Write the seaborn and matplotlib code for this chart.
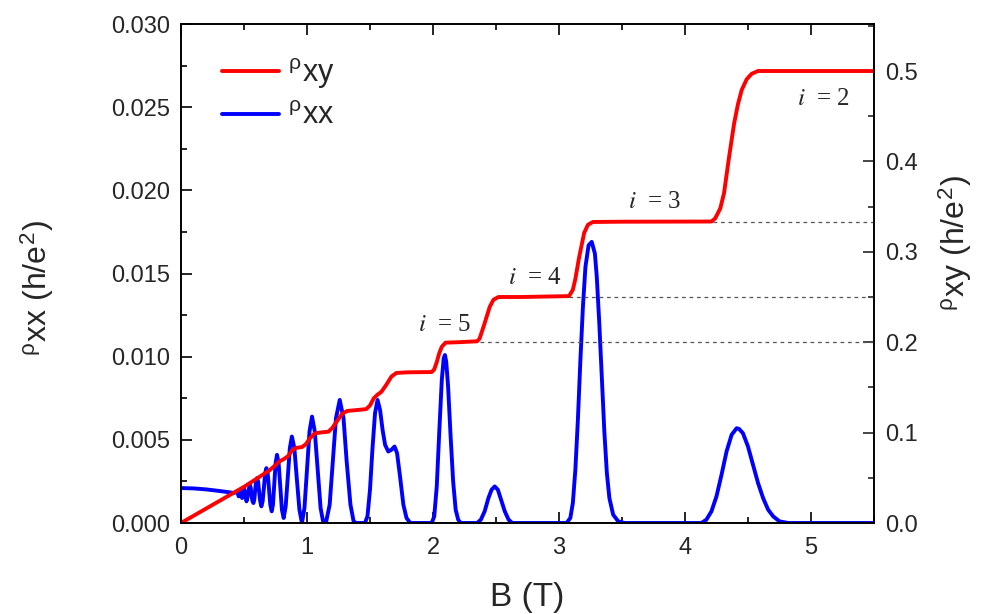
import numpy as np
import pandas as pd
import matplotlib
matplotlib.use('Agg')
import matplotlib.pyplot as plt
import seaborn as sns
from matplotlib.ticker import MultipleLocator, FormatStrFormatter

# rho_xx (left axis)
bxx = [0.00, 0.10, 0.20, 0.30, 0.38, 0.42, 0.445, 0.452, 0.458, 0.464, 0.47, 0.477, 0.485,
       0.492, 0.50, 0.51, 0.52, 0.527, 0.534, 0.547, 0.554, 0.561, 0.568, 0.575, 0.582, 0.589,
       0.596, 0.603, 0.612, 0.62, 0.629, 0.638, 0.648, 0.658, 0.668, 0.678, 0.688, 0.699,
       0.709, 0.72, 0.73, 0.741, 0.751, 0.762, 0.775, 0.788, 0.801, 0.815, 0.831, 0.848,
       0.864, 0.88, 0.90, 0.92, 0.94, 0.96, 0.98, 1.00, 1.02, 1.04, 1.062, 1.085, 1.108,
       1.13, 1.15, 1.18, 1.205, 1.23, 1.26, 1.29, 1.315, 1.345, 1.37, 1.39, 1.46, 1.48, 1.50,
       1.52, 1.54, 1.56, 1.58, 1.60, 1.62, 1.645, 1.67, 1.695, 1.715, 1.74, 1.765, 1.79, 1.82,
       1.99, 2.01, 2.03, 2.05, 2.07, 2.085, 2.095, 2.105, 2.12, 2.14, 2.16, 2.18, 2.20, 2.22,
       2.35, 2.38, 2.41, 2.44, 2.465, 2.49, 2.515, 2.54, 2.57, 2.60, 2.63, 3.06, 3.09, 3.11,
       3.13, 3.15, 3.17, 3.19, 3.21, 3.235, 3.26, 3.285, 3.30, 3.32, 3.34, 3.36, 3.38, 3.40,
       3.43, 3.47, 3.52, 4.13, 4.17, 4.21, 4.25, 4.29, 4.33, 4.37, 4.41, 4.43, 4.46, 4.50,
       4.54, 4.58, 4.62, 4.66, 4.70, 4.75, 4.82, 5.50]
rho_xx = [0.0021, 0.00208, 0.00202, 0.00193, 0.00185, 0.0018, 0.0019, 0.00175, 0.0016,
          0.0018, 0.0020, 0.00175, 0.0015, 0.0018, 0.0021, 0.0017, 0.0013, 0.0015, 0.0019,
          0.0023, 0.0021, 0.0016, 0.0013, 0.0012, 0.0014, 0.0020, 0.0025, 0.0027, 0.0025,
          0.0019, 0.0013, 0.0010, 0.0013, 0.0021, 0.0030, 0.0033, 0.0030, 0.0020, 0.0011,
          0.0007, 0.0011, 0.0024, 0.0036, 0.0041, 0.0036, 0.0022, 0.0008, 0.0003, 0.0010,
          0.0028, 0.0045, 0.0052, 0.0045, 0.0026, 0.0008, 0.0000, 0.0009, 0.0032, 0.0055,
          0.0064, 0.0055, 0.0032, 0.0009, 0.0000, 0.0000, 0.0011, 0.0037, 0.0063, 0.0074,
          0.0063, 0.0037, 0.0011, 0.0001, 0.0000, 0.0000, 0.0004, 0.0020, 0.0045, 0.0066,
          0.0074, 0.0068, 0.0056, 0.0047, 0.0043, 0.0044, 0.0046, 0.0042, 0.0027, 0.0011,
          0.0003, 0.0000, 0.0000, 0.0004, 0.0022, 0.0055, 0.0086, 0.0099, 0.0101, 0.0097,
          0.0082, 0.0052, 0.0025, 0.0008, 0.0002, 0.0000, 0.0000, 0.0002, 0.0007, 0.0015,
          0.0020, 0.0022, 0.0020, 0.0014, 0.0007, 0.0002, 0.0000, 0.0000, 0.0003, 0.0012,
          0.0032, 0.0062, 0.0098, 0.0130, 0.0154, 0.0167, 0.0169, 0.0162, 0.0148, 0.0120,
          0.0087, 0.0055, 0.0030, 0.0015, 0.0005, 0.0001, 0.0000, 0.0000, 0.0002, 0.0007,
          0.0016, 0.0029, 0.0043, 0.0053, 0.0057, 0.00565, 0.0054, 0.0046, 0.0035, 0.0024,
          0.0015, 0.0008, 0.0004, 0.0001, 0.0000, 0.0000]

# rho_xy (right axis)
bxy = [0.00, 0.20, 0.40, 0.50, 0.60, 0.70, 0.75, 0.78, 0.82, 0.85, 0.88, 0.91, 0.96, 0.99,
       1.02, 1.06, 1.10, 1.17, 1.20, 1.24, 1.28, 1.32, 1.40, 1.47, 1.50, 1.53, 1.56, 1.59,
       1.63, 1.67, 1.71, 1.80, 1.99, 2.01, 2.03, 2.05, 2.07, 2.10, 2.20, 2.35, 2.37, 2.41,
       2.45, 2.48, 2.52, 2.70, 3.08, 3.11, 3.13, 3.16, 3.20, 3.23, 3.27, 3.50, 4.21, 4.24,
       4.28, 4.31, 4.35, 4.39, 4.42, 4.45, 4.49, 4.53, 4.58, 5.00, 5.50]
rho_xy = [0.000, 0.016, 0.032, 0.040, 0.049, 0.058, 0.064, 0.068, 0.071, 0.074, 0.080, 0.083,
          0.084, 0.087, 0.093, 0.099, 0.100, 0.101, 0.105, 0.113, 0.121, 0.124, 0.125, 0.126,
          0.130, 0.138, 0.142, 0.145, 0.153, 0.162, 0.166, 0.1667, 0.167, 0.170, 0.178, 0.188,
          0.195, 0.1995, 0.200, 0.201, 0.204, 0.221, 0.239, 0.247, 0.250, 0.250, 0.251, 0.258,
          0.270, 0.294, 0.321, 0.330, 0.333, 0.3333, 0.3335, 0.337, 0.348, 0.365, 0.405, 0.442,
          0.463, 0.479, 0.491, 0.497, 0.500, 0.500, 0.500]

# quantized plateaus marked with dashed lines
plateau_i = [5, 4, 3, 2]
plateau_val = [1/5, 1/4, 1/3]
plateau_start = [2.37, 3.08, 4.22]
label_x = [2.09, 2.81, 3.76, 5.10]
label_y = [0.219, 0.271, 0.355, 0.469]

sns.set_style('ticks')
plt.rcParams['font.family'] = ['Liberation Sans', 'DejaVu Sans']
plt.rcParams['mathtext.fontset'] = 'stix'

fig = plt.figure(figsize=(9.82, 6.14), dpi=100)
ax = fig.add_axes([0.1843, 0.1482, 0.7057, 0.8127])
ax2 = ax.twinx()

sns.lineplot(x=bxx, y=rho_xx, ax=ax, color='#0000ff', lw=2.8, sort=False)
sns.lineplot(x=bxy, y=rho_xy, ax=ax2, color='#ff0000', lw=2.8, sort=False)

ax2.hlines(plateau_val, plateau_start, 5.5, colors='#555555', linestyles=(0, (3, 3)), lw=0.9)

for i, x, y in zip(plateau_i, label_x, label_y):
    ax2.text(x, y, r'$\mathit{i}$  = %d' % i, fontsize=18, family='Liberation Serif',
             ha='center', va='center')

ax.set_xlim(0, 5.5)
ax.set_ylim(0, 0.030)
ax2.set_ylim(0, 0.552)

ax.xaxis.set_major_locator(MultipleLocator(1))
ax.xaxis.set_minor_locator(MultipleLocator(0.5))
ax.yaxis.set_major_locator(MultipleLocator(0.005))
ax.yaxis.set_minor_locator(MultipleLocator(0.0025))
ax.yaxis.set_major_formatter(FormatStrFormatter('%.3f'))
ax2.yaxis.set_major_locator(MultipleLocator(0.1))
ax2.yaxis.set_minor_locator(MultipleLocator(0.05))
ax2.yaxis.set_major_formatter(FormatStrFormatter('%.1f'))

ax.tick_params(axis='both', which='both', direction='in', top=True, right=False,
               labelsize=17, color='black', width=1.2)
ax.tick_params(which='major', length=8)
ax.tick_params(which='minor', length=4)
ax.tick_params(axis='x', pad=10)
ax.tick_params(axis='y', pad=8)
ax2.tick_params(axis='y', which='both', direction='in', labelsize=17, width=1.2, pad=8)
ax2.tick_params(which='major', length=8)
ax2.tick_params(which='minor', length=4)

for a in (ax, ax2):
    for s in a.spines.values():
        s.set_color('black')
        s.set_linewidth(1.2)

ax.set_xlabel('B (T)', fontsize=24)
ax.xaxis.set_label_coords(0.5, -0.118)
ax.set_ylabel(r'$^{\mathregular{\rho}}$xx (h/e$^{\mathregular{2}}$)', fontsize=23)
ax.yaxis.set_label_coords(-0.18, 0.47)
ax2.set_ylabel(r'$^{\mathregular{\rho}}$xy (h/e$^{\mathregular{2}}$)', fontsize=23)
ax2.yaxis.set_label_coords(1.09, 0.56)

handles = [plt.Line2D([], [], color='#ff0000', lw=2.8), plt.Line2D([], [], color='#0000ff', lw=2.8)]
labels = [r'$^{\mathregular{\rho}}$xy', r'$^{\mathregular{\rho}}$xx']
if ax.get_legend():
    ax.get_legend().remove()
if ax2.get_legend():
    ax2.get_legend().remove()
ax2.legend(handles, labels, loc='upper left', bbox_to_anchor=(0.02, 0.99), frameon=False,
           fontsize=22, handlelength=1.85, labelspacing=0.35, handletextpad=0.3)

fig.savefig('out.png', dpi=100)
